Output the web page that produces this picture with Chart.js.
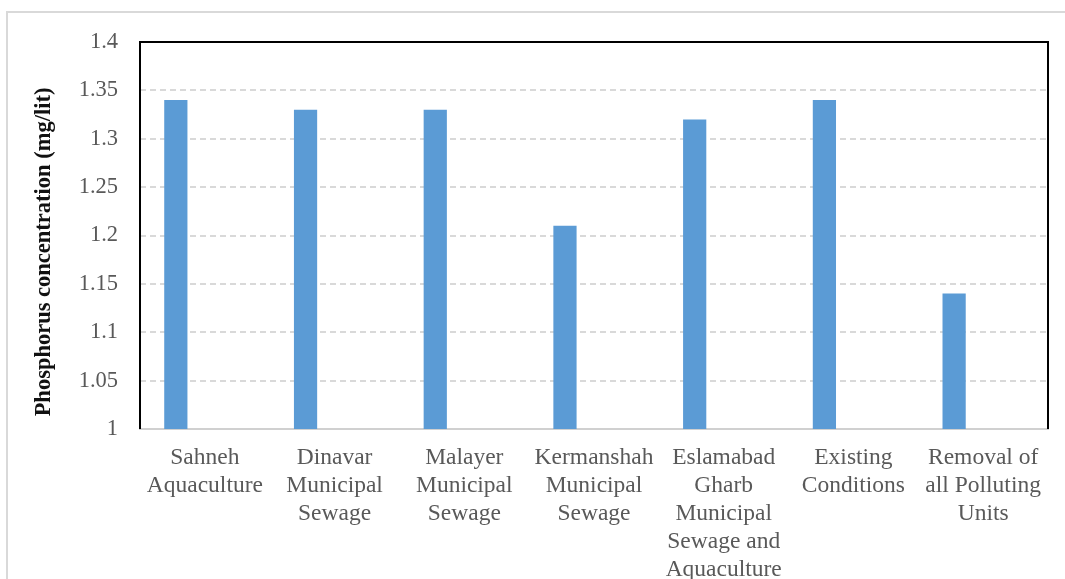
<!DOCTYPE html>
<html>
<head>
<meta charset="utf-8">
<script src="https://cdn.jsdelivr.net/npm/chart.js@4.4.1/dist/chart.umd.min.js"></script>
<style>
  html, body { margin: 0; padding: 0; background: #fff; }
  #wrap { position: relative; width: 1065px; height: 579px; overflow: hidden; }
  #frame { position: absolute; left: 6px; top: 11px; width: 1100px; height: 600px;
           border-left: 2px solid #d9d9d9; border-top: 2px solid #d9d9d9; }
  canvas { position: absolute; left: 0; top: 0; }
</style>
</head>
<body>
<div id="wrap">
  <div id="frame"></div>
  <canvas id="phosChart" width="1065" height="579"></canvas>
</div>
<script>
const categories = [
  ['Sahneh', 'Aquaculture'],
  ['Dinavar', 'Municipal', 'Sewage'],
  ['Malayer', 'Municipal', 'Sewage'],
  ['Kermanshah', 'Municipal', 'Sewage'],
  ['Eslamabad', 'Gharb', 'Municipal', 'Sewage and', 'Aquaculture'],
  ['Existing', 'Conditions'],
  ['Removal of', 'all Polluting', 'Units']
];
const phosphorus = [1.34, 1.33, 1.33, 1.21, 1.32, 1.34, 1.14];
// second series is empty in the original, it only takes up the right half of each group
const emptySeries = [null, null, null, null, null, null, null];
const yTitle = 'Phosphorus concentration (mg/lit)';

const serif = '"Liberation Serif", "Times New Roman", serif';

const frameBorder = {
  id: 'frameBorder',
  afterDraw(chart) {
    const { ctx, chartArea: a } = chart;
    ctx.save();
    ctx.strokeStyle = '#000';
    ctx.lineWidth = 2;
    ctx.beginPath();
    ctx.moveTo(a.left, a.bottom);
    ctx.lineTo(a.left, a.top);
    ctx.lineTo(a.right, a.top);
    ctx.lineTo(a.right, a.bottom);
    ctx.stroke();

    // y axis title, sits a bit lower than the plot centre in the original
    ctx.translate(44, 252);
    ctx.rotate(-Math.PI / 2);
    ctx.fillStyle = '#111';
    ctx.font = 'bold 22.5px ' + serif;
    ctx.textAlign = 'center';
    ctx.textBaseline = 'middle';
    ctx.fillText(yTitle, 0, 0);
    ctx.restore();
  }
};

const ctx = document.getElementById('phosChart').getContext('2d');
new Chart(ctx, {
  type: 'bar',
  data: {
    labels: categories,
    datasets: [
      {
        label: 'Phosphorus',
        data: phosphorus,
        backgroundColor: '#5b9bd5',
        categoryPercentage: 0.895,
        barPercentage: 0.4,
      },
      {
        label: '',
        data: emptySeries,
        backgroundColor: '#ed7d31',
        categoryPercentage: 0.895,
        barPercentage: 0.4,
      },
    ],
  },
  plugins: [frameBorder],
  options: {
    responsive: false,
    animation: false,
    layout: { padding: { top: 42, right: 17, left: 0, bottom: 0 } },
    plugins: {
      legend: { display: false },
      tooltip: { enabled: false },
    },
    scales: {
      x: {
        grid: { display: false, drawTicks: false },
        border: { color: '#d0d0d0', width: 2 },
        ticks: {
          color: '#595959',
          padding: 15,
          maxRotation: 0,
          autoSkip: false,
          font: { family: serif, size: 23.5, lineHeight: '28px' },
        },
        afterFit(scale) { scale.height = 150; },
      },
      y: {
        min: 1,
        max: 1.4,
        border: { display: false, dash: [6, 4] },
        grid: {
          color: (c) => (c.tick.value === 1 || c.tick.value >= 1.4 ? 'rgba(0,0,0,0)' : '#d9d9d9'),
          lineWidth: 2,
          drawTicks: false,
        },
        ticks: {
          stepSize: 0.05,
          color: '#595959',
          padding: 22,
          font: { family: serif, size: 22.5 },
          callback: (v) => String(Number(v.toFixed(2))),
        },
        afterFit(scale) { scale.width = 140; },
      },
    },
  },
});
</script>
</body>
</html>
